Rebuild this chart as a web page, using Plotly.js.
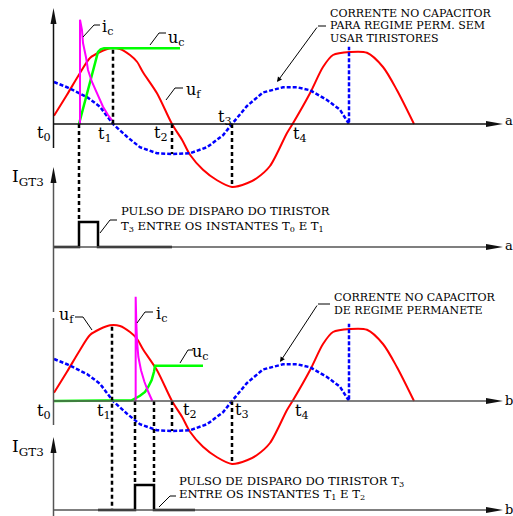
<!DOCTYPE html>
<html><head><meta charset="utf-8">
<script src="https://cdn.plot.ly/plotly-3.0.1.min.js"></script>
<style>html,body{margin:0;padding:0;background:#fff}#chart{width:513px;height:516px}</style>
</head><body><div id="chart"></div>
<script>
// ================= DATA (x = ωt in degrees, t0 = 0; voltages/currents in p.u.) =================
// supply voltage u_f (red) – same waveform in both panels
const ufDeg = [0, 19.5, 39, 54, 69, 84, 99, 114, 124.5, 133.5, 154.5, 177, 192, 204, 223.5, 244.5, 267, 289.5, 304.5, 324, 349.5, 358.5, 384, 403.5, 418.5, 444, 469.5, 493.5, 514.5, 540];
const ufPu  = [0.11, 0.39, 0.68, 0.88, 0.96, 1.01, 1.00, 0.92, 0.83, 0.69, 0.41, 0.00, -0.21, -0.41, -0.61, -0.75, -0.84, -0.79, -0.72, -0.56, -0.12, 0.01, 0.41, 0.76, 0.92, 0.96, 0.95, 0.76, 0.45, 0.00];
// steady-state capacitor current without thyristors (blue, dotted)
const icssDeg = [0, 19.5, 49.5, 69, 88.5, 109.5, 129, 154.5, 177, 204, 229.5, 253.5, 267, 289.5, 313.5, 343.5, 364.5, 384, 409.5, 429, 442.5, 442.5];
const icssPu  = [0.56, 0.49, 0.36, 0.23, 0.00, -0.17, -0.31, -0.39, -0.40, -0.39, -0.31, -0.15, 0.00, 0.24, 0.42, 0.49, 0.49, 0.45, 0.32, 0.19, 0.00, 1.03];
// case (a): capacitor voltage u_c and current i_c
const ucADeg = [37.5, 66, 70, 75, 82, 189];
const ucAPu  = [0.00, 0.96, 0.995, 1.01, 1.01, 1.01];
const icADeg = [39, 39, 42, 43.5, 48, 51, 57, 64.5, 73.5, 81, 87];
const icAPu  = [0.00, 1.39, 1.25, 1.08, 0.89, 0.72, 0.56, 0.41, 0.23, 0.12, 0.05];
// case (a): gate pulse I_GT3
const pulseADeg = [0, 37.5, 37.5, 66, 66, 177];
const pulseALvl = [0, 0, 1, 1, 0, 0];
// case (b)
const ucBDeg = [0, 116.5, 129, 136.5, 141.5, 146.5, 150, 151.5, 223.5];
const ucBPu  = [0.00, 0.01, 0.07, 0.12, 0.19, 0.28, 0.39, 0.47, 0.47];
const icBDeg = [122.5, 122.5, 123.5, 124.5, 126.5, 130.5, 135.5, 141.5, 147.5];
const icBPu  = [0.00, 1.39, 1.04, 0.81, 0.59, 0.41, 0.26, 0.12, 0.00];
const pulseBDeg = [66, 121.5, 121.5, 150, 150, 211.5];
const pulseBLvl = [0, 0, 1, 1, 0, 0];
// dashed construction lines inside a panel: instant, from value, to value
const guideADeg = [88.5, 177, 267];
const guideAFrom = [0.99, 0, 0];
const guideATo = [0, -0.40, -0.84];
const guideBDeg = [177, 267];
const guideBFrom = [0, 0];
const guideBTo = [-0.40, -0.84];
// dashed lines from a panel down to the gate pulse: instant, panel value, pulse level
const dropADeg = [37.5];
const dropAFrom = [0];
const dropALvl = [1];
const dropBDeg = [87, 121.5, 150];
const dropBFrom = [0.99, 0, 0];
const dropBLvl = [0, 1, 1];

// ================= LAYOUT GEOMETRY =================
const W = 513, H = 516;
const X0PX = 54, DEG_PER_PX = 1.5;
const AX = {
  yA:  {top: 0,   bot: 262, zero: 124, ppu: 75},
  yPA: {top: 150, bot: 262, zero: 247, ppu: 25},
  yB:  {top: 262, bot: 516, zero: 401, ppu: 75},
  yPB: {top: 420, bot: 516, zero: 510, ppu: 25}
};
function axisLayout(a){
  return {domain: [1 - a.bot / H, 1 - a.top / H], range: [(a.zero - a.bot) / a.ppu, (a.zero - a.top) / a.ppu],
          visible: false, fixedrange: true, anchor: 'x'};
}
function pulseInPanel(panel, pulse, lvl){ // same screen height, expressed in panel units
  const px = pulse.zero - lvl * pulse.ppu;
  return (panel.zero - px) / panel.ppu;
}
const P = (px, py) => ({x: px / W, y: 1 - py / H});

const RED = '#ff0000', BLUE = '#0000ff', GREEN = '#00ff00', MAG = '#ff00ff';

function segs(xs, y0s, y1s){
  const x = [], y = [];
  xs.forEach((v, i) => { x.push(v, v, null); y.push(y0s[i], y1s[i], null); });
  return {x, y};
}
function curveTraces(yax, uc, ic){
  return [
    {x: ufDeg, y: ufPu, yaxis: yax, mode: 'lines', line: {color: RED, width: 2, shape: 'spline', smoothing: 0.8}},
    {x: icssDeg, y: icssPu, yaxis: yax, mode: 'lines', line: {color: BLUE, width: 2.5, dash: '4px,2px'}},
    {x: uc[0], y: uc[1], yaxis: yax, mode: 'lines', line: {color: GREEN, width: 2.5}},
    {x: ic[0], y: ic[1], yaxis: yax, mode: 'lines', line: {color: MAG, width: 2}}
  ];
}
const dash = {color: '#000', width: 2.5, dash: '4px,3px'};
const gA = segs(guideADeg, guideAFrom, guideATo);
const gB = segs(guideBDeg, guideBFrom, guideBTo);
const dA = segs(dropADeg, dropAFrom, dropALvl.map(l => pulseInPanel(AX.yA, AX.yPA, l)));
const dB = segs(dropBDeg, dropBFrom, dropBLvl.map(l => pulseInPanel(AX.yB, AX.yPB, l)));

const data = [].concat(
  curveTraces('y', [ucADeg, ucAPu], [icADeg, icAPu]),
  [{x: gA.x, y: gA.y, yaxis: 'y', mode: 'lines', line: dash},
   {x: dA.x, y: dA.y, yaxis: 'y', mode: 'lines', line: dash},
   {x: pulseADeg, y: pulseALvl, yaxis: 'y2', mode: 'lines', line: {color: '#000', width: 2.5}}],
  curveTraces('y3', [ucBDeg, ucBPu], [icBDeg, icBPu]),
  [{x: gB.x, y: gB.y, yaxis: 'y3', mode: 'lines', line: dash},
   {x: dB.x, y: dB.y, yaxis: 'y3', mode: 'lines', line: dash},
   {x: pulseBDeg, y: pulseBLvl, yaxis: 'y4', mode: 'lines', line: {color: '#000', width: 2.5}}]
);
data.forEach(t => { t.showlegend = false; t.hoverinfo = 'skip'; t.xaxis = 'x'; });

// ---------- frame: axis lines + arrowheads (paper coords) ----------
const shapes = [];
function line(x0, y0, x1, y1, color, w){
  const a = P(x0, y0), b = P(x1, y1);
  shapes.push({type: 'line', xref: 'paper', yref: 'paper', x0: a.x, y0: a.y, x1: b.x, y1: b.y, line: {color: color, width: w}});
}
function poly(pts, color, w){
  const p = pts.map(q => P(q[0], q[1]));
  let d = 'M' + p.map(q => q.x + ',' + q.y).join('L');
  shapes.push({type: 'path', xref: 'paper', yref: 'paper', path: d, line: {color: color, width: w}});
}
function arrowHead(px, py, dir, color){
  const a = P(px, py);
  const path = dir === 'right' ? 'M0,0L-17,3L-17,-3Z' : 'M0,0L-3,-16L3,-16Z';
  shapes.push({type: 'path', xref: 'paper', yref: 'paper', xsizemode: 'pixel', ysizemode: 'pixel',
               xanchor: a.x, yanchor: a.y, path: path, fillcolor: color, line: {width: 0}});
}
const AXC = '#111', AXG = '#555';
// panel a
line(54, 124, 490, 124, AXC, 1.5); arrowHead(503, 124, 'right', AXC);
line(53.5, 148, 53.5, 20, AXC, 1.5); arrowHead(53.5, 8, 'up', AXC);
// pulse a
line(53.5, 312, 53.5, 180, AXG, 1.5); arrowHead(53.5, 167, 'up', AXC);
line(54, 247, 490, 247, AXG, 1.5); arrowHead(503, 247, 'right', AXC);
// panel b
line(53.5, 318, 53.5, 425, AXG, 1.5);
line(54, 401, 490, 401, AXG, 1.5); arrowHead(503, 401, 'right', AXC);
// pulse b
line(53.5, 516, 53.5, 450, AXG, 1.5); arrowHead(53.5, 437, 'up', AXC);
line(54, 510, 490, 510, AXG, 1.5); arrowHead(503, 510, 'right', AXC);
// leader lines
poly([[83,37],[94,25],[100,25]], '#000', 1);
poly([[150,45],[159,33],[166,33]], '#000', 1);
poly([[166,100],[175,88],[183,88]], '#000', 1);
poly([[137,323],[145,312],[153,312]], '#000', 1);
poly([[180,363],[188,350],[193,350]], '#000', 1);
poly([[75,317],[83,317],[92,330]], '#000', 1);
poly([[100,233],[110,220],[117,220]], '#000', 1);
poly([[159,507],[170,496],[176,496]], '#000', 1);
line(318, 26, 326, 26, '#000', 1);
line(318, 304, 330, 304, '#000', 1);

// ---------- texts ----------
const SERIF = 'DejaVu Serif, serif';
const ann = [];
function txt(t, px, py, size, anchor){
  const p = P(px, py);
  ann.push({xref: 'paper', yref: 'paper', x: p.x, y: p.y, text: t, showarrow: false,
            xanchor: anchor || 'center', yanchor: 'middle', font: {family: SERIF, size: size, color: '#000'}});
}
function leaderArrow(tx, ty, fx, fy){
  const p = P(tx, ty);
  ann.push({xref: 'paper', yref: 'paper', x: p.x, y: p.y, text: '', showarrow: true, ax: fx - tx, ay: fy - ty,
            arrowhead: 2, arrowsize: 1, arrowwidth: 1, arrowcolor: '#000'});
}
const instantLabels = ['t<sub>0</sub>', 't<sub>1</sub>', 't<sub>2</sub>', 't<sub>3</sub>', 't<sub>4</sub>'];
const labA = [[44,133],[105,134],[161,133],[225,118],[300,134]];
const labB = [[44,411],[104,411],[190,410],[242,410],[302,411]];
instantLabels.forEach((t, i) => { txt(t, labA[i][0], labA[i][1], 16); txt(t, labB[i][0], labB[i][1], 16); });
txt('i<sub>c</sub>', 107, 28, 16); txt('u<sub>c</sub>', 176, 38, 16); txt('u<sub>f</sub>', 193, 91, 16);
txt('u<sub>f</sub>', 66, 315, 16); txt('i<sub>c</sub>', 161, 314, 16); txt('u<sub>c</sub>', 200, 352, 16);
txt('I<sub>GT3</sub>', 28, 178, 17); txt('I<sub>GT3</sub>', 28, 447, 17);
txt('a', 503, 121, 13, 'left'); txt('a', 503, 246, 13, 'left');
txt('b', 503, 400, 13, 'left'); txt('b', 503, 509, 13, 'left');
const CAP = 11, CAP2 = 11.6;
txt('CORRENTE NO CAPACITOR', 328, 13, CAP, 'left');
txt('PARA REGIME PERM. SEM', 328, 26, CAP, 'left');
txt('USAR TIRISTORES', 328, 38, CAP, 'left');
txt('CORRENTE NO CAPACITOR', 332, 297, CAP, 'left');
txt('DE REGIME PERMANETE', 332, 310, CAP, 'left');
txt('PULSO DE DISPARO DO TIRISTOR', 119, 211, CAP2, 'left');
txt('T<sub>3</sub> ENTRE OS INSTANTES T<sub>0</sub> E T<sub>1</sub>', 119, 226, CAP2, 'left');
txt('PULSO DE DISPARO DO TIRISTOR T<sub>3</sub>', 177, 481, CAP2, 'left');
txt('ENTRE OS INSTANTES T<sub>1</sub> E T<sub>2</sub>', 177, 494, CAP2, 'left');
leaderArrow(277, 82, 318, 26);
leaderArrow(280, 362, 318, 304);

const layout = {
  width: W, height: H, margin: {l: 0, r: 0, t: 0, b: 0},
  paper_bgcolor: '#fff', plot_bgcolor: 'rgba(0,0,0,0)', showlegend: false,
  xaxis: {domain: [0, 1], range: [(0 - X0PX) * DEG_PER_PX, (W - X0PX) * DEG_PER_PX], visible: false, fixedrange: true},
  yaxis: axisLayout(AX.yA),
  yaxis2: axisLayout(AX.yPA),
  yaxis3: axisLayout(AX.yB),
  yaxis4: axisLayout(AX.yPB),
  shapes: shapes, annotations: ann
};
Plotly.newPlot('chart', data, layout, {staticPlot: true, displayModeBar: false});
</script></body></html>
